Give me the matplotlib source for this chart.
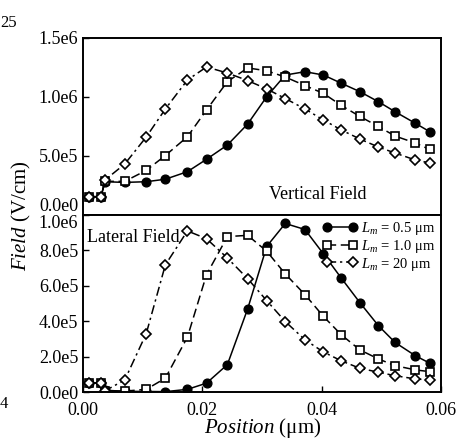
import matplotlib
matplotlib.use("Agg")
import matplotlib.pyplot as plt
import numpy as np

plt.rcParams['font.family'] = ['Liberation Serif', 'DejaVu Serif']
plt.rcParams['mathtext.fontset'] = 'custom'
plt.rcParams['mathtext.rm'] = 'Liberation Serif'
plt.rcParams['mathtext.it'] = 'Liberation Serif:italic'

# Position (um)
position = [0.001, 0.003, 0.0037, 0.007, 0.0106, 0.0138, 0.0175, 0.0207, 0.0242, 0.0276,
            0.0308, 0.0339, 0.0372, 0.0403, 0.0433, 0.0464, 0.0495, 0.0523, 0.0557, 0.0581]

# Vertical field (V/cm)
vert_05 = [155e3, 155e3, 282e3, 276e3, 282e3, 303e3, 367e3, 472e3, 593e3, 771e3,
           1003e3, 1186e3, 1214e3, 1186e3, 1116e3, 1045e3, 960e3, 875e3, 777e3, 706e3]
vert_10 = [155e3, 155e3, 285e3, 285e3, 378e3, 504e3, 663e3, 890e3, 1130e3, 1246e3,
           1222e3, 1169e3, 1097e3, 1030e3, 928e3, 835e3, 750e3, 669e3, 610e3, 555e3]
vert_20 = [155e3, 155e3, 297e3, 432e3, 661e3, 898e3, 1144e3, 1254e3, 1203e3, 1139e3,
           1068e3, 987e3, 898e3, 805e3, 720e3, 644e3, 576e3, 525e3, 466e3, 441e3]

# Lateral field (V/cm)
lat_05 = [51e3, 51e3, 10e3, 4e3, 3e3, 2e3, 15e3, 50e3, 155e3, 470e3,
          823e3, 952e3, 918e3, 780e3, 643e3, 505e3, 375e3, 280e3, 205e3, 163e3]
lat_10 = [51e3, 51e3, 7e3, 5e3, 15e3, 78e3, 310e3, 663e3, 878e3, 885e3,
          795e3, 667e3, 550e3, 427e3, 323e3, 238e3, 187e3, 149e3, 125e3, 115e3]
lat_20 = [51e3, 51e3, 7e3, 68e3, 330e3, 718e3, 910e3, 866e3, 757e3, 640e3,
          516e3, 398e3, 295e3, 226e3, 176e3, 134e3, 112e3, 92e3, 74e3, 68e3]

labels = [r"$L_m$ = 0.5 μm", r"$L_m$ = 1.0 μm", r"$L_m$ = 20 μm"]
top_ticks = [0, 5e5, 1e6, 1.5e6]
top_ticklabels = ["0.0e0", "5.0e5", "1.0e6", "1.5e6"]
bot_ticks = [0, 2e5, 4e5, 6e5, 8e5, 1e6]
bot_ticklabels = ["0.0e0", "2.0e5", "4.0e5", "6.0e5", "8.0e5", "1.0e6"]
x_ticks = [0.0, 0.02, 0.04, 0.06]
x_ticklabels = ["0.00", "0.02", "0.04", "0.06"]

fig = plt.figure(figsize=(4.7, 4.42), dpi=100)
ax1 = fig.add_axes([0.1766, 0.5136, 0.7617, 0.4005])
ax2 = fig.add_axes([0.1766, 0.1131, 0.7617, 0.4005])

styles = [
    dict(color='black', linestyle='-', marker='o', markersize=6.3, markerfacecolor='black',
         markeredgecolor='black', linewidth=1.1),
    dict(color='black', linestyle=(0, (6, 3)), marker='s', markersize=5.8, markerfacecolor='white',
         markeredgecolor='black', markeredgewidth=1.2, linewidth=1.1),
    dict(color='black', linestyle=(0, (6, 2.5, 1.5, 2.5)), marker='D', markersize=5.3,
         markerfacecolor='white', markeredgecolor='black', markeredgewidth=1.2, linewidth=1.1),
]

for ys, st in zip([vert_05, vert_10, vert_20], styles):
    ax1.plot(position, ys, **st)
for ys, st, lab in zip([lat_05, lat_10, lat_20], styles, labels):
    ax2.plot(position, ys, label=lab, **st)

for ax in (ax1, ax2):
    ax.set_xlim(0, 0.06)
    ax.tick_params(direction='in', length=4, width=1, labelsize=13, right=False, top=False)
    ax.tick_params(axis='x', pad=7)
    for sp in ax.spines.values():
        sp.set_linewidth(1.4)

ax1.set_ylim(0, 1.5e6)
ax1.set_yticks(top_ticks)
ax1.set_yticklabels(top_ticklabels)
ax1.set_xticks(x_ticks)
ax1.tick_params(axis='x', labelbottom=False, length=0)

ax2.set_ylim(0, 1.0e6)
ax2.set_yticks(bot_ticks)
ax2.set_yticklabels(bot_ticklabels)
ax2.set_xticks(x_ticks)
ax2.set_xticklabels(x_ticklabels)

# avoid collision of the two labels at the panel boundary
ax1.get_yticklabels()[0].set_verticalalignment('bottom')
ax2.get_yticklabels()[-1].set_verticalalignment('top')

ax1.text(0.655, 0.115, "Vertical Field", transform=ax1.transAxes, fontsize=13,
         ha='center', va='center')
ax2.text(0.012, 0.875, "Lateral Field", transform=ax2.transAxes, fontsize=13,
         ha='left', va='center')

leg = ax2.legend(loc='upper right', frameon=False, fontsize=10.5, handlelength=2.4,
                 handletextpad=0.25, borderaxespad=0.1, labelspacing=0.05, numpoints=2,
                 borderpad=0.25)

fig.text(0.045, 0.513, r"$\it{Field}$ (V/cm)", rotation=90, fontsize=15,
         ha='center', va='center')
fig.text(0.559, 0.032, r"$\it{Position}$ (μm)", fontsize=15, ha='center', va='center')

# fragments at left edge of the scan
fig.text(0.0, 0.948, "25", fontsize=12, ha='left', va='center')
fig.text(0.0, 0.085, "4", fontsize=12, ha='left', va='center')

fig.savefig("out.png", dpi=100)
